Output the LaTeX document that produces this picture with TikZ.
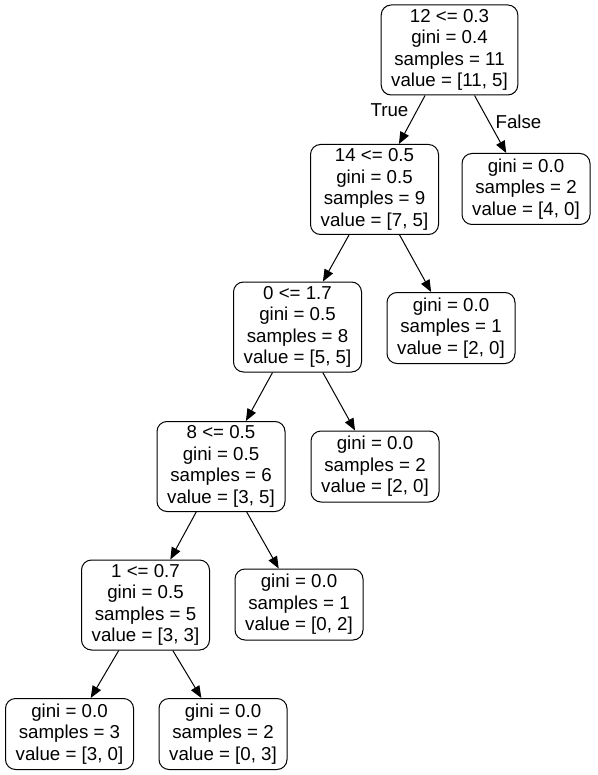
\documentclass[tikz,border=0pt]{standalone}
\usepackage{fontspec}
\setmainfont{Liberation Sans}
\usetikzlibrary{arrows.meta}
\tikzset{split/.style={draw, line width=1pt, rounded corners=10pt, align=center, minimum width=128pt, minimum height=90pt, inner xsep=10pt, inner ysep=2pt, font=\fontsize{18.7}{21.5}\selectfont}}
\tikzset{leaf/.style={split, minimum height=71pt}}
\tikzset{edge/.style={-{Triangle[length=12pt,width=9.5pt]}, line width=1pt}}

\begin{document}
\begin{tikzpicture}[x=1pt,y=-1pt]
\useasboundingbox (0,0) rectangle (597,775);
\node[split] (root) at (449.5,50) {12 <= 0.3\\gini = 0.4\\samples = 11\\value = [11, 5]};
\node[split] (n14) at (374.5,189.5) {14 <= 0.5\\gini = 0.5\\samples = 9\\value = [7, 5]};
\node[leaf] (lfa) at (526,189) {gini = 0.0\\samples = 2\\value = [4, 0]};
\node[split] (n0) at (297.5,327) {0 <= 1.7\\gini = 0.5\\samples = 8\\value = [5, 5]};
\node[leaf] (lfb) at (451,328) {gini = 0.0\\samples = 1\\value = [2, 0]};
\node[split] (n8) at (221,466.5) {8 <= 0.5\\gini = 0.5\\samples = 6\\value = [3, 5]};
\node[leaf] (lfc) at (375,466.5) {gini = 0.0\\samples = 2\\value = [2, 0]};
\node[split] (n1) at (145.5,605) {1 <= 0.7\\gini = 0.5\\samples = 5\\value = [3, 3]};
\node[leaf] (lfd) at (299,604.5) {gini = 0.0\\samples = 1\\value = [0, 2]};
\node[leaf] (lfe) at (69.5,734) {gini = 0.0\\samples = 3\\value = [3, 0]};
\node[leaf] (lff) at (223,734) {gini = 0.0\\samples = 2\\value = [0, 3]};
% edges
\draw[edge] (root) -- (n14) node[pos=0.3, left=5pt, font=\fontsize{18.7}{21.5}\selectfont] {True};
\draw[edge] (root) -- (lfa) node[pos=0.45, right=3pt, font=\fontsize{18.7}{21.5}\selectfont] {False};
\draw[edge] (n14) -- (n0);
\draw[edge] (n14) -- (lfb);
\draw[edge] (n0) -- (n8);
\draw[edge] (n0) -- (lfc);
\draw[edge] (n8) -- (n1);
\draw[edge] (n8) -- (lfd);
\draw[edge] (n1) -- (lfe);
\draw[edge] (n1) -- (lff);
\end{tikzpicture}
\end{document}
